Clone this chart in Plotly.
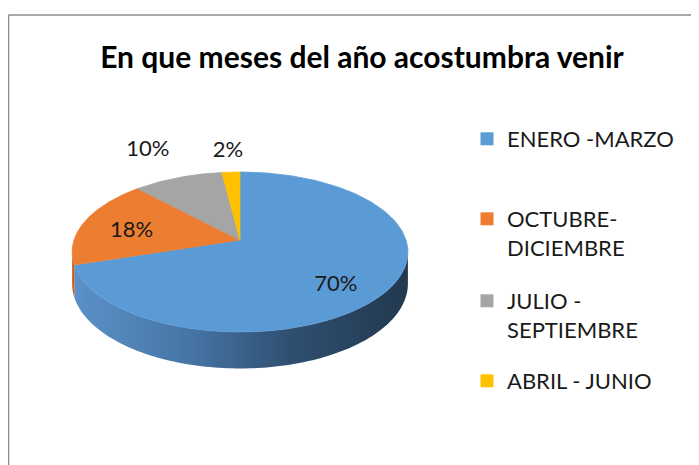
import numpy as np
import plotly.graph_objects as go

# ---- data ----
categories = ["ENERO -MARZO", "OCTUBRE-<br>DICIEMBRE", "JULIO -<br>SEPTIEMBRE", "ABRIL - JUNIO"]
values = [70, 18, 10, 2]
pct_labels = ["70%", "18%", "10%", "2%"]

# ---- style ----
top_colors = ["#5b9bd5", "#ed7d31", "#a5a5a5", "#ffc000"]
side_scales = [
    [[0, "#5b91c9"], [0.35, "#4674a4"], [0.65, "#2f4f70"], [1, "#22394f"]],
    [[0, "#c8682c"], [1, "#b85c22"]],
    [[0, "#8c8c8c"], [1, "#707070"]],
    [[0, "#d9a300"], [1, "#c29100"]],
]
label_k = [(0.65, 0.91), (0.70, 0.48), (1.48, 1.43), (1.32, 1.31)]
FONT = "Lato"

# page has an 8px body margin: size the figure so the window shows it all
OFF = 8
W, H = 699 - OFF, 465 - OFF


def px(xr):   # reference x pixel -> paper
    return (xr - OFF) / W


def py(yr):   # reference y pixel -> paper
    return 1 - (yr - OFF) / H


cx, cy = 240, 240          # apex of the pie (reference pixels)
rx, ry = 166, 78.2         # projected radii
persp = 0.15               # perspective strength
depth = 31                 # thickness
vis0, vis1 = 98.6, 261.4   # visible side wall (degrees clockwise from top)


def proj(theta_deg, drop=0.0, kx=1.0, ky=1.0):
    t = np.radians(theta_deg)
    p = 1.0 / (1.0 + persp * np.cos(t))
    x = cx + kx * rx * np.sin(t) * p
    y = cy - ky * ry * np.cos(t) * p + drop * p
    return x, y


total = float(sum(values))
bounds = np.concatenate([[0.0], np.cumsum(values) / total * 360.0])

fig = go.Figure()

# side walls
for i in range(len(values)):
    a, b = max(bounds[i], vis0), min(bounds[i + 1], vis1)
    if a >= b:
        continue
    th = np.linspace(a, b, 120)
    xt, yt = proj(th)
    xb, yb = proj(th[::-1], drop=depth)
    fig.add_trace(go.Scatter(
        x=np.concatenate([xt, xb]), y=np.concatenate([yt, yb]),
        fill="toself", mode="none",
        fillgradient=dict(type="horizontal", colorscale=side_scales[i]),
        hoverinfo="skip", showlegend=False))

# top surface slices
for i in range(len(values)):
    th = np.linspace(bounds[i], bounds[i + 1], 200)
    xa, ya = proj(th)
    fig.add_trace(go.Scatter(
        x=np.concatenate([[cx], xa, [cx]]), y=np.concatenate([[cy], ya, [cy]]),
        fill="toself", mode="lines", line=dict(color=top_colors[i], width=0.8),
        fillcolor=top_colors[i], hoverinfo="skip", showlegend=False))

# data labels
mids = (bounds[:-1] + bounds[1:]) / 2
for i in range(len(values)):
    lx, ly = proj(mids[i], kx=label_k[i][0], ky=label_k[i][1])
    fig.add_trace(go.Scatter(
        x=[lx], y=[ly], mode="text", text=[pct_labels[i]],
        textfont=dict(family=FONT, size=22, color="#1a1a1a"),
        hoverinfo="skip", showlegend=False))

# legend entries (one legend per entry to reproduce Excel's even spacing)
legend_y_px = [139, 233.5, 315.5, 381]
legend_names = ["legend", "legend2", "legend3", "legend4"]
for i in range(len(values)):
    fig.add_trace(go.Scatter(
        x=[None], y=[None], mode="markers", name=categories[i],
        marker=dict(symbol="square", size=13, color=top_colors[i]),
        legend=legend_names[i], showlegend=True))

legend_common = dict(x=px(467), xanchor="left", yanchor="middle", valign="top",
                     bgcolor="rgba(0,0,0,0)",
                     font=dict(family=FONT, size=22, color="#1a1a1a"))
legend_layout = {}
for i, name in enumerate(legend_names):
    legend_layout[name] = dict(legend_common, y=py(legend_y_px[i]))

fig.update_layout(
    width=W, height=H,
    margin=dict(l=0, r=0, t=0, b=0),
    paper_bgcolor="white", plot_bgcolor="white",
    xaxis=dict(range=[OFF, OFF + W], visible=False, fixedrange=True),
    yaxis=dict(range=[OFF + H, OFF], visible=False, fixedrange=True),
    title=dict(text="<b>En que meses del año acostumbra venir</b>",
               x=px(362), xanchor="center", y=py(57), yanchor="middle",
               font=dict(family=FONT, size=30, color="#000000")),
    shapes=[
        dict(type="line", xref="paper", yref="paper", x0=px(8.5), x1=1.0,
             y0=py(15), y1=py(15), line=dict(color="#8c8c8c", width=1.5)),
        dict(type="line", xref="paper", yref="paper", x0=px(8.5), x1=px(8.5),
             y0=0, y1=py(15), line=dict(color="#8c8c8c", width=1.5)),
    ],
    **legend_layout,
)

fig.write_html("out.html")
